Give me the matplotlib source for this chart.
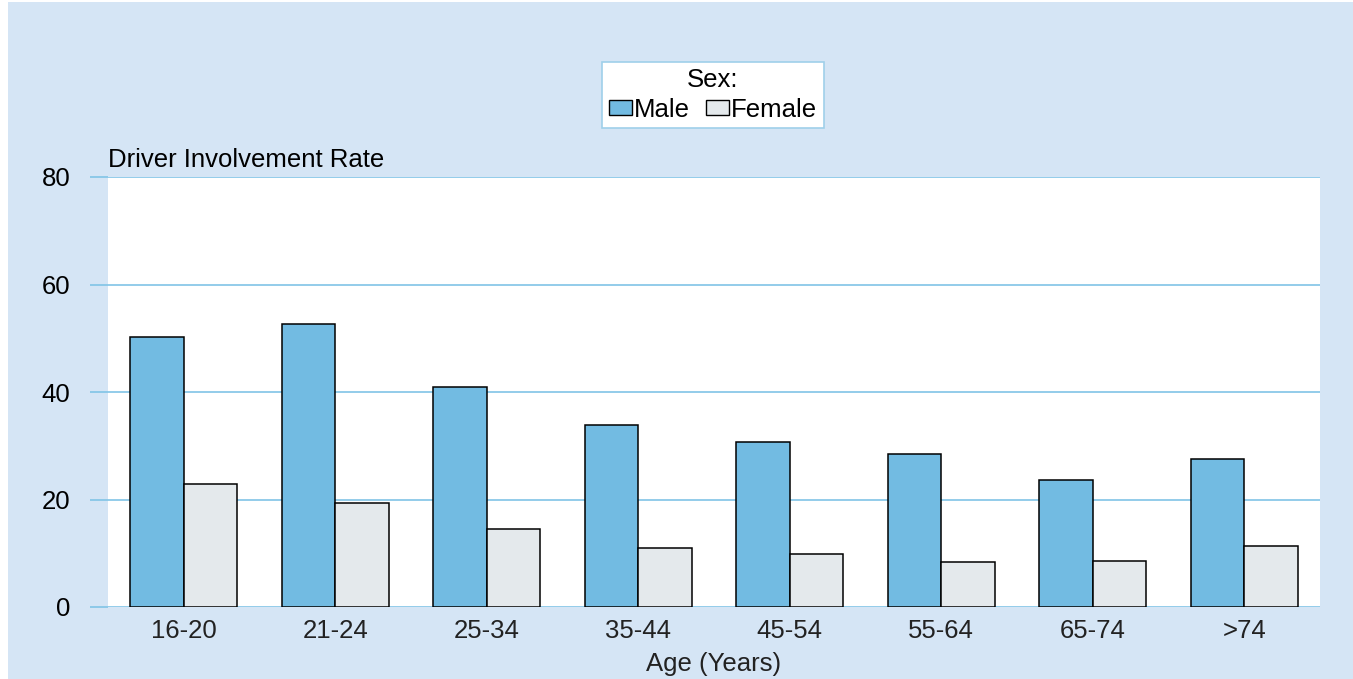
import matplotlib.pyplot as plt
from matplotlib.patches import Rectangle, Patch
import numpy as np

# values
age_groups = ['16-20', '21-24', '25-34', '35-44', '45-54', '55-64', '65-74', '>74']
male_rate = [50.3, 52.7, 40.9, 33.8, 30.7, 28.4, 23.6, 27.6]
female_rate = [22.9, 19.4, 14.5, 11.0, 9.9, 8.4, 8.5, 11.3]
y_ticks = [0, 20, 40, 60, 80]

plt.rcParams['font.family'] = ['Liberation Sans', 'DejaVu Sans']

panel_color = '#d5e5f5'
grid_color = '#80c4e6'
male_color = '#72bbe2'
female_color = '#e4e9ec'

W, H = 1353, 679
fig = plt.figure(figsize=(W / 100, H / 100), dpi=100)
fig.patch.set_facecolor('white')

# light blue panel behind everything (small white strip on left and top)
fig.patches.append(Rectangle((8 / W, 0), 1 - 8 / W, 1 - 2 / H, transform=fig.transFigure,
                             facecolor=panel_color, edgecolor='none', zorder=-10))

ax = fig.add_axes([108 / W, 1 - 607 / H, (1320 - 108) / W, (607 - 177) / H])
ax.set_facecolor('white')

x = np.arange(len(age_groups))
w = 0.352
ax.bar(x - w / 2, male_rate, w, color=male_color, edgecolor='black', linewidth=1.1, zorder=3)
ax.bar(x + w / 2, female_rate, w, color=female_color, edgecolor='black', linewidth=1.1, zorder=3)

ax.set_xlim(-0.5, len(age_groups) - 0.5)
ax.set_ylim(0, 80)
ax.set_yticks(y_ticks)
ax.set_xticks(x)
ax.set_xticklabels(age_groups)

# horizontal gridlines, extended to the left as tick marks
ax.grid(axis='y', color=grid_color, linewidth=1.2, zorder=1)
ax.tick_params(axis='y', length=13, width=1.2, color=grid_color, pad=14, labelsize=18.5)
ax.tick_params(axis='x', length=0, pad=9, labelsize=18.5, labelcolor='#222222')
for s in ax.spines.values():
    s.set_visible(False)

ax.set_xlabel('Age (Years)', fontsize=18.5, labelpad=6, color='#222222')
ax.text(0, 1.012, 'Driver Involvement Rate', transform=ax.transAxes,
        fontsize=18.5, ha='left', va='bottom')

# legend
handles = [Patch(facecolor=male_color, edgecolor='black', linewidth=1),
           Patch(facecolor=female_color, edgecolor='black', linewidth=1)]
leg = fig.legend(handles, ['Male', 'Female'], title='Sex:', ncol=2,
                 loc='center', bbox_to_anchor=(713 / W, 1 - 95 / H),
                 fontsize=18.5, title_fontsize=18.5, frameon=True, fancybox=False,
                 framealpha=1, handlelength=0.9, handleheight=0.55, handletextpad=0.1,
                 columnspacing=0.6, borderpad=0.25, labelspacing=0.2)
leg.get_frame().set_edgecolor('#9fd0ea')
leg.get_frame().set_linewidth(1.2)
leg.get_frame().set_facecolor('white')

fig.savefig('out.png', dpi=100)
